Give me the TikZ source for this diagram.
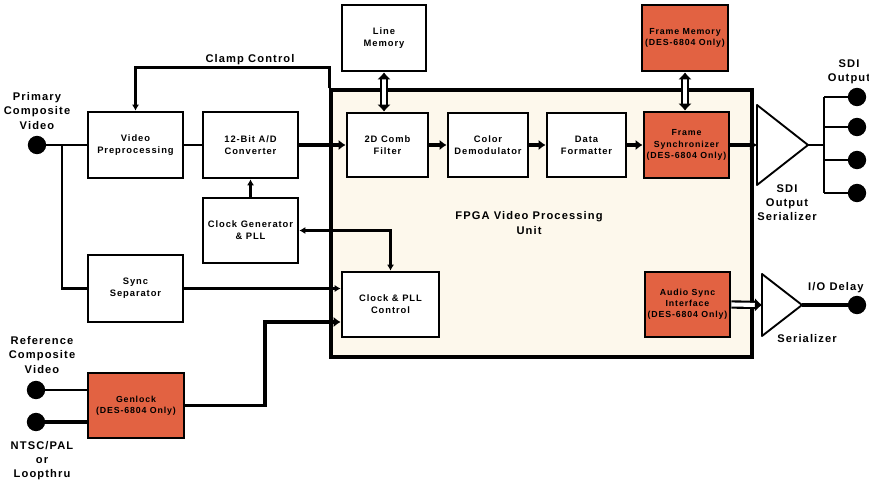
\documentclass[tikz,border=0pt]{standalone}
\usepackage{fontspec}
\newfontfamily\diagfont{Liberation Sans}[LetterSpace=10]
\usepackage{tikz}
\usetikzlibrary{arrows.meta,positioning,calc}
\definecolor{fpgabg}{RGB}{253,248,236}
\definecolor{optorange}{RGB}{226,98,66}

\begin{document}
\begin{tikzpicture}[x=0.03cm,y=-0.03cm,
    blk/.style 2 args={draw,line width=2.4pt,fill=white,align=center,
        minimum width=#1*0.03cm,minimum height=#2*0.03cm,inner sep=1pt,
        font=\diagfont\bfseries\fontsize{8}{10}\selectfont},
    optblk/.style 2 args={blk={#1}{#2},fill=optorange,
        font=\diagfont\bfseries\fontsize{7.5}{9.5}\selectfont},
    lbl/.style={align=center,inner sep=0pt,
        font=\diagfont\bfseries\fontsize{9.5}{12}\selectfont},
    pin/.style={circle,fill=black,minimum size=0.55cm,inner sep=0pt},
    wire/.style={line width=1.8pt},
    bus/.style={line width=4pt},
    arr/.style={-{Latex[length=5pt,width=6pt]}},
    busarr/.style={-{Latex[length=6pt,width=9pt]}},
    hollow/.style={double=white,double distance=3.5pt,line width=1.8pt,
        {Latex[length=6pt,width=12pt]}-{Latex[length=6pt,width=12pt]}},
    hollowarr/.style={double=white,double distance=3.5pt,line width=1.8pt,
        -{Latex[length=6pt,width=12pt]}},
    tri/.style={line width=1.6pt,line join=round}]

    \useasboundingbox (0,0) rectangle (869,487);

    \node[draw,line width=2.6pt,fill=fpgabg,minimum width=421*0.03cm,
        minimum height=267*0.03cm] (fpga) at (541.5,223.5) {};
    \node[lbl] (fpgalbl) at (529,223) {FPGA Video Processing\\Unit};

    \node[blk={95}{66}] (vidpre) at (135.5,145) {Video\\Preprocessing};
    \node[blk={95}{66}] (adc) at (250.5,145) {12-Bit A/D\\Converter};
    \node[blk={95}{65}] (clkgen) at (250.5,230.5) {Clock Generator\\\& PLL};
    \node[blk={95}{67}] (syncsep) at (135.5,288.5) {Sync\\Separator};
    \node[optblk={96}{65}] (genlock) at (136,405.5) {Genlock\\(DES-6804 Only)};
    \node[blk={84}{66}] (linemem) at (384,38) {Line\\Memory};
    \node[blk={81}{64}] (comb) at (387.5,145) {2D Comb\\Filter};
    \node[blk={80}{64}] (demod) at (488,145) {Color\\Demodulator};
    \node[blk={79}{64}] (formatter) at (586.5,145) {Data\\Formatter};
    \node[optblk={85}{66}] (framesync) at (686.5,145) {Frame\\Synchronizer\\(DES-6804 Only)};
    \node[optblk={86}{66}] (framemem) at (685,38) {Frame Memory\\(DES-6804 Only)};
    \node[blk={97}{65}] (clkpll) at (390.5,304.5) {Clock \& PLL\\Control};
    \node[optblk={85}{65}] (audio) at (687.5,304.5) {Audio Sync\\Interface\\(DES-6804 Only)};

    \node[pin] (primpin) at (37,145) {};
    \node[pin] (refpin) at (36,390) {};
    \node[pin] (ntscpin) at (36,422) {};
    \node[pin] (sdia) at (857,97) {};
    \node[pin] (sdib) at (857,127) {};
    \node[pin] (sdic) at (857,160) {};
    \node[pin] (sdid) at (857,193) {};
    \node[pin] (iopin) at (857,305) {};

    \node[lbl] (primlbl) at (37,111) {Primary\\Composite\\Video};
    \node[lbl] (clamplbl) at (250,60) {Clamp Control};
    \node[lbl] (sdilbl) at (849,72) {SDI\\Output};
    \node[lbl] (serlbl) at (787,203) {SDI\\Output\\Serializer};
    \node[lbl,anchor=west] (iolbl) at (808,288) {I/O Delay};
    \node[lbl] (ser2lbl) at (807,339) {Serializer};
    \node[lbl] (reflbl) at (42,355) {Reference\\Composite\\Video};
    \node[lbl] (ntsclbl) at (42,461) {NTSC/PAL\\or\\Loopthru};

    \draw[tri] (757,105) -- (808,145) coordinate (s1tip) -- (757,185) -- cycle;
    \coordinate (s1in) at (757,145);
    \draw[tri] (762,274) -- (802,305) coordinate (s2tip) -- (762,336) -- cycle;
    \coordinate (s2in) at (762,305);

    \draw[wire] (primpin) -- (vidpre.west);
    \draw[wire] (62,145) |- (syncsep.west);
    \draw[wire] (vidpre.east) -- (adc.west);
    \draw[bus,busarr] (adc.east) -- (comb.west);
    \draw[bus,busarr] (comb.east) -- (demod.west);
    \draw[bus,busarr] (demod.east) -- (formatter.west);
    \draw[bus,busarr] (formatter.east) -- (framesync.west);
    \draw[bus,busarr] (framesync.east) -- (s1in);
    \draw[wire,arr] (clkgen.north) -- (adc.south);
    \draw[wire,arr] (fpga.north west) -- ++(0,-21) -| (vidpre.north);
    \draw[wire,{Latex[length=5pt,width=6pt]}-{Latex[length=5pt,width=6pt]}]
        (clkgen.east) -| (clkpll.north);
    \draw[wire,arr] (syncsep.east) -- (syncsep.east -| clkpll.west);
    \draw[line width=2.8pt,busarr] (genlock.east) -| (265,322) -- (265,322 -| clkpll.west);
    \draw[line width=1pt] (refpin) -- (refpin -| genlock.west);
    \draw[line width=3pt] (ntscpin) -- (ntscpin -| genlock.west);

    \draw[hollow] (linemem.south) -- (linemem.south |- comb.north);
    \draw[hollow] (framemem.south) -- (framemem.south |- framesync.north);
    \draw[hollowarr] (audio.east) -- (s2in);

    \coordinate (fan) at (824,145);
    \draw[wire] (s1tip) -- (fan);
    \draw[wire] (fan |- sdia) -- (fan |- sdid);
    \foreach \p in {sdia,sdib,sdic,sdid}
        \draw[wire] (fan |- \p) -- (\p);
    \draw[line width=2.6pt] (s2tip) -- (iopin);
\end{tikzpicture}
\end{document}
